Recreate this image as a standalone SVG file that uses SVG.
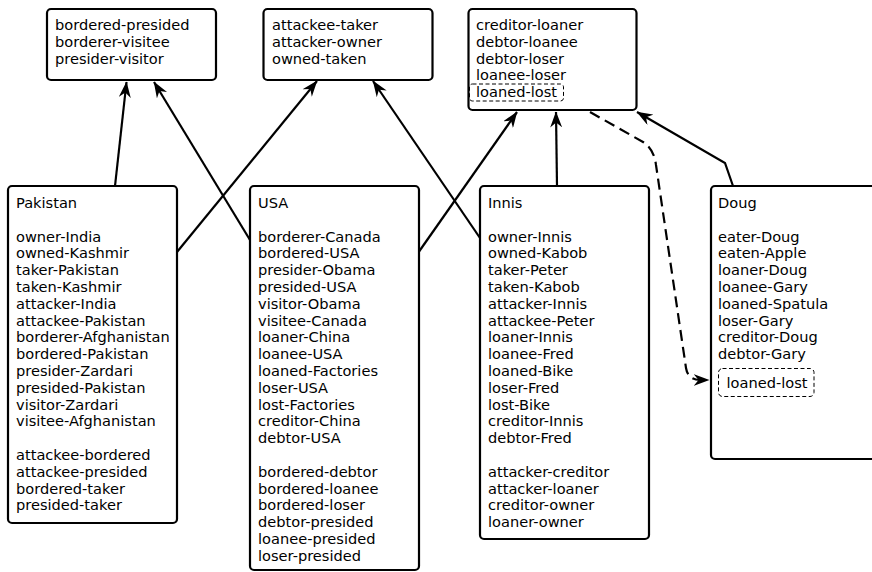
<svg xmlns="http://www.w3.org/2000/svg" width="872" height="572" viewBox="0 0 872 572">
<style>
.box{fill:#fff;stroke:#000;stroke-width:2.2}
.dbox{fill:none;stroke:#000;stroke-width:1;stroke-dasharray:4,2.5}
text{font-family:"DejaVu Sans",Verdana,sans-serif;font-size:14.6px;fill:#000}
.ed{fill:none;stroke:#000;stroke-width:2.2}
.dash{stroke-dasharray:11,6}
</style>
<defs>
<marker id="arr" viewBox="0 0 16 12" refX="15.5" refY="6" markerWidth="16" markerHeight="12" orient="auto" markerUnits="userSpaceOnUse">
<path d="M0,0 L16,6 L0,12 L5,6 z" fill="#000"/>
</marker>
</defs>
<rect width="872" height="572" fill="#fff"/>
<g id="connectors">
<path class="ed" d="M115,186 L126.5,82" marker-end="url(#arr)"/>
<path class="ed" d="M250,240 L154,82" marker-end="url(#arr)"/>
<path class="ed" d="M177,252 L317,81" marker-end="url(#arr)"/>
<path class="ed" d="M480,238 L373,81" marker-end="url(#arr)"/>
<path class="ed" d="M418,253 L517,112" marker-end="url(#arr)"/>
<path class="ed" d="M557,186 L556,112" marker-end="url(#arr)"/>
<path class="ed" d="M733,186 L725,163 L637,112" marker-end="url(#arr)"/>
<path class="ed dash" d="M590,112 L643,142 Q654,149 656,165 L686,368 Q688,380 700,380 L709,380" marker-end="url(#arr)"/>
</g>
<g id="n_top1">
<rect class="box" x="47" y="9" width="169" height="71" rx="4"/>
<text x="55" y="30">bordered-presided</text>
<text x="55" y="46.8">borderer-visitee</text>
<text x="55" y="63.6">presider-visitor</text>
</g>
<g id="n_top2">
<rect class="box" x="263.5" y="9" width="169" height="71" rx="4"/>
<text x="272" y="30">attackee-taker</text>
<text x="272" y="46.8">attacker-owner</text>
<text x="272" y="63.6">owned-taken</text>
</g>
<g id="n_top3">
<rect class="box" x="468.5" y="9" width="168" height="101" rx="4"/>
<text x="476" y="30">creditor-loaner</text>
<text x="476" y="46.8">debtor-loanee</text>
<text x="476" y="63.6">debtor-loser</text>
<text x="476" y="80.4">loanee-loser</text>
<rect class="dbox" x="469.5" y="84" width="94" height="17" rx="3"/>
<text x="476" y="97.2">loaned-lost</text>
</g>
<g id="n_pakistan">
<rect class="box" x="8" y="186" width="169" height="337" rx="4"/>
<text x="16" y="208">Pakistan</text>
<text x="16" y="241.6">owner-India</text>
<text x="16" y="258.4">owned-Kashmir</text>
<text x="16" y="275.2">taker-Pakistan</text>
<text x="16" y="292">taken-Kashmir</text>
<text x="16" y="308.8">attacker-India</text>
<text x="16" y="325.6">attackee-Pakistan</text>
<text x="16" y="342.4">borderer-Afghanistan</text>
<text x="16" y="359.2">bordered-Pakistan</text>
<text x="16" y="376">presider-Zardari</text>
<text x="16" y="392.8">presided-Pakistan</text>
<text x="16" y="409.6">visitor-Zardari</text>
<text x="16" y="426.4">visitee-Afghanistan</text>
<text x="16" y="460">attackee-bordered</text>
<text x="16" y="476.8">attackee-presided</text>
<text x="16" y="493.6">bordered-taker</text>
<text x="16" y="510.4">presided-taker</text>
</g>
<g id="n_usa">
<rect class="box" x="250" y="186" width="169" height="384" rx="4"/>
<text x="258" y="208">USA</text>
<text x="258" y="241.6">borderer-Canada</text>
<text x="258" y="258.4">bordered-USA</text>
<text x="258" y="275.2">presider-Obama</text>
<text x="258" y="292">presided-USA</text>
<text x="258" y="308.8">visitor-Obama</text>
<text x="258" y="325.6">visitee-Canada</text>
<text x="258" y="342.4">loaner-China</text>
<text x="258" y="359.2">loanee-USA</text>
<text x="258" y="376">loaned-Factories</text>
<text x="258" y="392.8">loser-USA</text>
<text x="258" y="409.6">lost-Factories</text>
<text x="258" y="426.4">creditor-China</text>
<text x="258" y="443.2">debtor-USA</text>
<text x="258" y="476.8">bordered-debtor</text>
<text x="258" y="493.6">bordered-loanee</text>
<text x="258" y="510.4">bordered-loser</text>
<text x="258" y="527.2">debtor-presided</text>
<text x="258" y="544">loanee-presided</text>
<text x="258" y="560.8">loser-presided</text>
</g>
<g id="n_innis">
<rect class="box" x="480" y="186" width="169" height="353" rx="4"/>
<text x="488" y="208">Innis</text>
<text x="488" y="241.6">owner-Innis</text>
<text x="488" y="258.4">owned-Kabob</text>
<text x="488" y="275.2">taker-Peter</text>
<text x="488" y="292">taken-Kabob</text>
<text x="488" y="308.8">attacker-Innis</text>
<text x="488" y="325.6">attackee-Peter</text>
<text x="488" y="342.4">loaner-Innis</text>
<text x="488" y="359.2">loanee-Fred</text>
<text x="488" y="376">loaned-Bike</text>
<text x="488" y="392.8">loser-Fred</text>
<text x="488" y="409.6">lost-Bike</text>
<text x="488" y="426.4">creditor-Innis</text>
<text x="488" y="443.2">debtor-Fred</text>
<text x="488" y="476.8">attacker-creditor</text>
<text x="488" y="493.6">attacker-loaner</text>
<text x="488" y="510.4">creditor-owner</text>
<text x="488" y="527.2">loaner-owner</text>
</g>
<g id="n_doug">
<rect class="box" x="711" y="186" width="200" height="273" rx="4"/>
<text x="718" y="208">Doug</text>
<text x="718" y="241.6">eater-Doug</text>
<text x="718" y="258.4">eaten-Apple</text>
<text x="718" y="275.2">loaner-Doug</text>
<text x="718" y="292">loanee-Gary</text>
<text x="718" y="308.8">loaned-Spatula</text>
<text x="718" y="325.6">loser-Gary</text>
<text x="718" y="342.4">creditor-Doug</text>
<text x="718" y="359.2">debtor-Gary</text>
<rect class="dbox" x="718.5" y="368.5" width="95.5" height="28" rx="4"/>
<text x="726.5" y="388">loaned-lost</text>
</g>
</svg>
